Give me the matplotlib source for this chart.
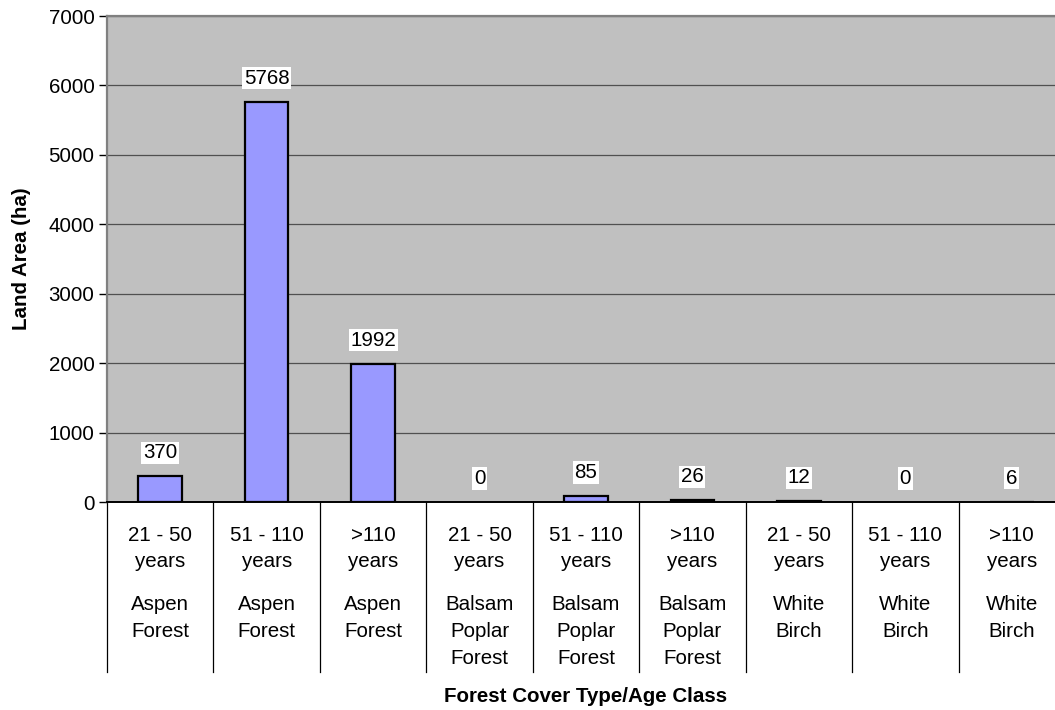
import matplotlib
matplotlib.use("Agg")
import matplotlib.pyplot as plt

age_classes = ["21 - 50", "51 - 110", ">110", "21 - 50", "51 - 110", ">110", "21 - 50", "51 - 110", ">110"]
cover_types = [["Aspen", "Forest"], ["Aspen", "Forest"], ["Aspen", "Forest"],
               ["Balsam", "Poplar", "Forest"], ["Balsam", "Poplar", "Forest"], ["Balsam", "Poplar", "Forest"],
               ["White", "Birch"], ["White", "Birch"], ["White", "Birch"]]
land_area = [370, 5768, 1992, 0, 85, 26, 12, 0, 6]
yticks = [0, 1000, 2000, 3000, 4000, 5000, 6000, 7000]

plt.rcParams['font.family'] = ['Liberation Sans', 'DejaVu Sans']
FS = 14.8

W, H = 1055, 710
fig = plt.figure(figsize=(W / 100, H / 100), dpi=100)
fig.patch.set_facecolor('white')
left, right, top, bottom = 107, 1065, 16, 502
ax = fig.add_axes([left / W, (H - bottom) / H, (right - left) / W, (bottom - top) / H])
ax.set_facecolor('#C0C0C0')

x = list(range(len(land_area)))
lws = [0 if v == 0 else 1.6 for v in land_area]
ax.bar(x, land_area, width=0.41, color='#9999FF', edgecolor='black', linewidth=lws, zorder=3)

ax.set_xlim(-0.5, len(land_area) - 0.5)
ax.set_ylim(0, 7000)
ax.set_yticks(yticks)
ax.set_yticklabels([str(t) for t in yticks], fontsize=FS)
ax.tick_params(axis='y', length=6, width=1, pad=3, color='black')
ax.set_xticks([])
ax.yaxis.grid(True, color='#505050', linewidth=0.9, zorder=1)
ax.set_axisbelow(True)

for s in ['top', 'left']:
    ax.spines[s].set_color('#808080')
    ax.spines[s].set_linewidth(1.6)
ax.spines['right'].set_visible(False)
ax.spines['bottom'].set_color('black')
ax.spines['bottom'].set_linewidth(1.4)
ax.spines['bottom'].set_zorder(4)

# data labels
for xi, v in zip(x, land_area):
    ax.annotate(str(v), xy=(xi, v), xytext=(0, 23.5), textcoords='offset pixels',
                ha='center', va='center', fontsize=FS, zorder=5,
                bbox=dict(boxstyle='square,pad=0.08', fc='white', ec='none'))

# category separators
sep_frac = 170 / (bottom - top)
for i in range(len(land_area) + 1):
    xs = i - 0.5
    ax.plot([xs, xs], [0, -sep_frac], transform=ax.get_xaxis_transform(), clip_on=False,
            color='black', linewidth=0.9)

# category labels (baselines in px below axis bottom)
age_offsets = [39, 65]
type_offsets = [108, 135, 162]
for xi, age, ct in zip(x, age_classes, cover_types):
    for txt, off in zip([age, "years"], age_offsets):
        ax.annotate(txt, xy=(xi, 0), xycoords=('data', 'axes fraction'), xytext=(0, -off),
                    textcoords='offset pixels', ha='center', va='baseline', fontsize=FS,
                    annotation_clip=False)
    for txt, off in zip(ct, type_offsets):
        ax.annotate(txt, xy=(xi, 0), xycoords=('data', 'axes fraction'), xytext=(0, -off),
                    textcoords='offset pixels', ha='center', va='baseline', fontsize=FS,
                    annotation_clip=False)

fig.text(586 / W, (H - 701.7) / H, "Forest Cover Type/Age Class", ha='center', va='baseline',
         fontsize=FS, fontweight='bold')
fig.text(22 / W, 1 - 259 / H, "Land Area (ha)", ha='center', va='center', rotation=90,
         fontsize=FS, fontweight='bold')

fig.savefig("out.png", dpi=100, facecolor='white')
